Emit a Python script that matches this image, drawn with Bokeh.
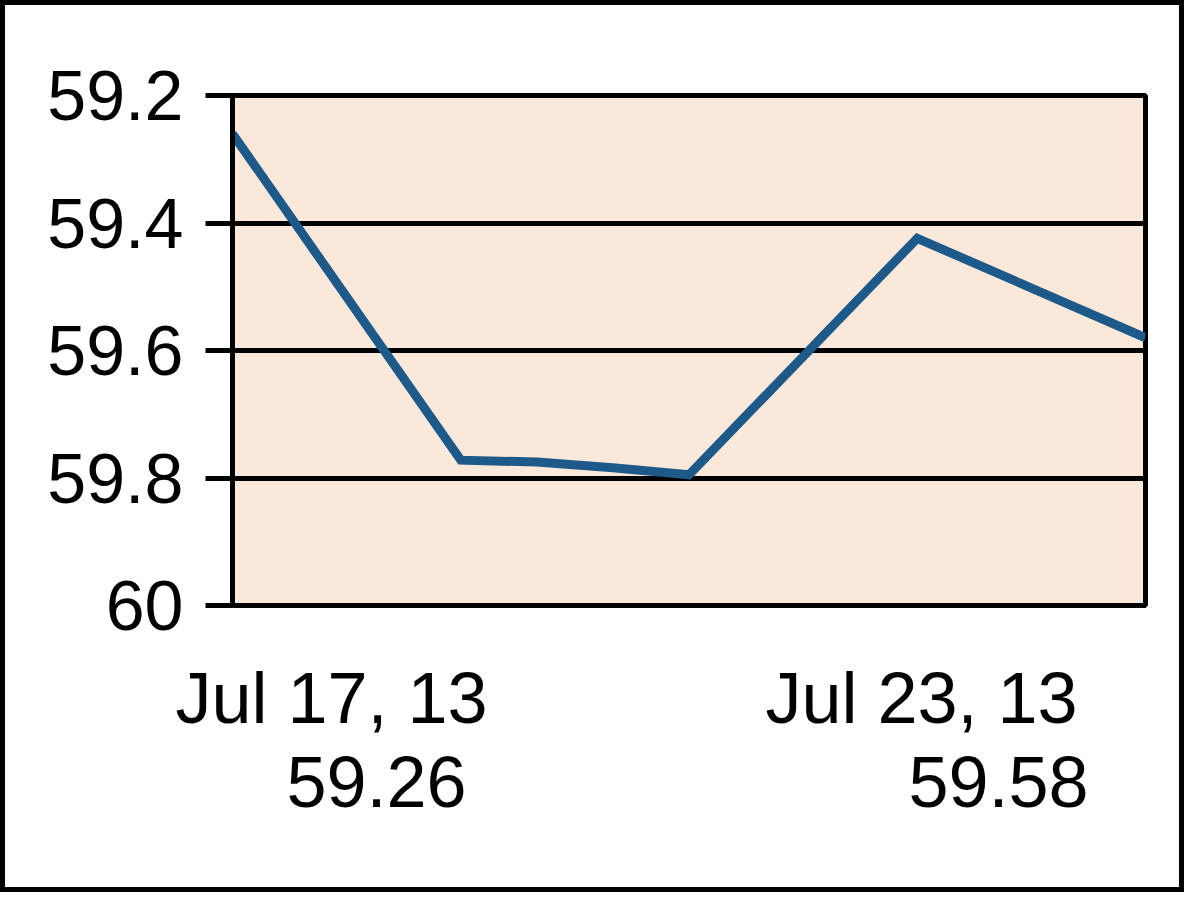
from datetime import date
from bokeh.plotting import figure
from bokeh.models import Range1d, FixedTicker, LinearAxis, InlineStyleSheet
from bokeh.embed import file_html
from bokeh.resources import INLINE

# ---- data ----
start_date = date(2013, 7, 17)
end_date = date(2013, 7, 23)
t_days = [0, 1.5, 2, 2.5, 3, 4.5, 6]            # days after Jul 17, 2013
prices = [59.26, 59.772, 59.775, 59.784, 59.795, 59.424, 59.58]
y_ticks = [59.2, 59.4, 59.6, 59.8, 60.0]
y_tick_labels = ["59.2", "59.4", "59.6", "59.8", "60"]

FONT = "Liberation Sans"
W, H = 1184, 892
FL, FR = 232, 1145          # frame left/right in canvas pixels

p = figure(width=W, height=H, output_backend="svg", toolbar_location=None,
           x_range=Range1d(t_days[0], t_days[-1]),
           y_range=Range1d(y_ticks[-1], y_ticks[0]),
           x_axis_location=None,
           min_border_left=FL, min_border_right=W - FR,
           min_border_top=95, min_border_bottom=287)

# outer black border around the whole chart
p.stylesheets = [InlineStyleSheet(css=":host::after { content: ''; position: absolute; "
                                      "left: 0; top: 0; right: 0; bottom: 0; "
                                      "border: 5px solid black; z-index: 1000; "
                                      "pointer-events: none; }"
                                      ":host { position: relative; }")]

p.background_fill_color = "#FAE9DA"
p.border_fill_color = "white"
p.outline_line_color = "black"
p.outline_line_width = 5
p.outline_line_alpha = 1.0

p.xgrid.visible = False
p.ygrid.ticker = FixedTicker(ticks=y_ticks)
p.ygrid.grid_line_color = "black"
p.ygrid.grid_line_width = 5
p.ygrid.grid_line_alpha = 1.0

ya = p.yaxis[0]
ya.ticker = FixedTicker(ticks=y_ticks)
ya.major_label_overrides = {v: s for v, s in zip(y_ticks, y_tick_labels)}
ya.axis_line_color = "black"
ya.axis_line_width = 5
ya.major_tick_line_color = "black"
ya.major_tick_line_width = 5
ya.major_tick_out = 27
ya.major_tick_in = 0
ya.minor_tick_line_color = None
ya.major_label_standoff = 22
ya.major_label_text_font = FONT
ya.major_label_text_font_size = "70px"
ya.major_label_text_color = "black"

p.line(t_days, prices, line_color="#1D5A89", line_width=9, line_join="miter")

# ---- first / last point captions under the chart (two extra axes) ----
def fmt(d):
    return f"{d:%b} {d.day}, {d:%y}"

def shifted_range(px0, px1):
    # range whose first/last data x fall at canvas pixels px0 / px1
    span = t_days[-1] - t_days[0]
    k = span / (px1 - px0)
    return Range1d(t_days[0] - (px0 - FL) * k, t_days[-1] + (FR - px1) * k)

p.extra_x_ranges = {"dates": shifted_range(331, 921),
                    "prices": shifted_range(376, 998)}

captions = {
    "dates": {t_days[0]: fmt(start_date), t_days[-1]: fmt(end_date)},
    "prices": {t_days[0]: f"{prices[0]:.2f}", t_days[-1]: f"{prices[-1]:.2f}"},
}
standoffs = {"dates": 52, "prices": 16}
for name in ["dates", "prices"]:
    ax = LinearAxis(x_range_name=name,
                    ticker=FixedTicker(ticks=[t_days[0], t_days[-1]]),
                    major_label_overrides=captions[name],
                    axis_line_color=None, major_tick_line_color=None,
                    minor_tick_line_color=None, major_tick_out=0, major_tick_in=0,
                    major_label_standoff=standoffs[name],
                    major_label_text_font=FONT, major_label_text_font_size="72px",
                    major_label_text_color="black")
    p.add_layout(ax, "below")

open("out.html", "w").write(file_html(p, INLINE))
